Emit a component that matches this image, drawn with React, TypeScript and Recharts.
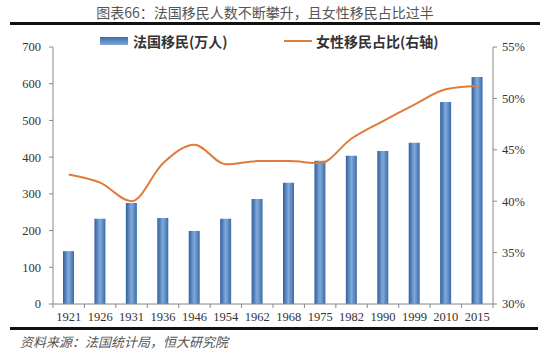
import React from 'react';
import { ComposedChart, Bar, Line, XAxis, YAxis } from 'recharts';

const years = ['1921', '1926', '1931', '1936', '1946', '1954', '1962', '1968', '1975', '1982', '1990', '1999', '2010', '2015'];
const immigrants = [144, 232, 275, 234, 199, 232, 286, 330, 390, 404, 417, 439, 550, 618];
const femaleShare = [42.6, 41.8, 40.0, 43.7, 45.5, 43.6, 43.9, 43.9, 43.7, 46.1, 47.8, 49.4, 50.9, 51.2];
const leftTicks = [0, 100, 200, 300, 400, 500, 600, 700];
const rightTicks = [30, 35, 40, 45, 50, 55];

const data = years.map((year, i) => ({
  year,
  immigrants: immigrants[i],
  share: femaleShare[i],
}));

const cjk = '"Noto Sans CJK SC", sans-serif';
const serif = '"Liberation Serif", "DejaVu Serif", serif';

const YearTick = ({ x, y, payload, index }: any) => {
  const off = payload && payload.offset ? payload.offset : 15.7;
  return (
    <g>
      <line x1={x - off} y1={y} x2={x - off} y2={y + 4} stroke="#888" />
      {index === years.length - 1 && <line x1={x + off} y1={y} x2={x + off} y2={y + 4} stroke="#888" />}
      <text x={x} y={y + 17} textAnchor="middle" fontSize={12.5} fontFamily={serif} fill="#333">
        {payload.value}
      </text>
    </g>
  );
};

const App: React.FC = () => {
  return (
    <div style={{ position: 'absolute', left: 0, top: 0, width: 550, height: 355, background: '#fff', overflow: 'hidden' }}>
      <div style={{ position: 'absolute', left: 0, width: 530, top: 3, textAlign: 'center', fontFamily: cjk, fontSize: 14, color: '#555', lineHeight: '18px' }}>
        图表66：法国移民人数不断攀升，且女性移民占比过半
      </div>
      <div style={{ position: 'absolute', left: 10, top: 22, width: 530, height: 3, background: '#111' }} />

      <div style={{ position: 'absolute', left: 100, top: 37, width: 28, height: 8, background: 'linear-gradient(to bottom, #3a6ca8, #7fa8d8)' }} />
      <div style={{ position: 'absolute', left: 133, top: 31, fontFamily: cjk, fontSize: 14, fontWeight: 700, color: '#333', lineHeight: '20px' }}>
        法国移民(万人)
      </div>
      <div style={{ position: 'absolute', left: 284, top: 40, width: 28, height: 2, background: '#e07b39' }} />
      <div style={{ position: 'absolute', left: 316, top: 31, fontFamily: cjk, fontSize: 14, fontWeight: 700, color: '#333', lineHeight: '20px' }}>
        女性移民占比(右轴)
      </div>

      <div style={{ position: 'absolute', left: 0, top: 0 }}>
        <ComposedChart width={550} height={355} data={data} margin={{ top: 47, right: 0, bottom: 31, left: 0 }}>
          <defs>
            <linearGradient id="barBlue" x1="0" y1="0" x2="1" y2="0">
              <stop offset="0%" stopColor="#2e5f9e" />
              <stop offset="50%" stopColor="#82aadb" />
              <stop offset="100%" stopColor="#3a6ca8" />
            </linearGradient>
          </defs>
          <XAxis
            dataKey="year"
            height={20}
            tickSize={0}
            tickMargin={0}
            tickLine={false}
            axisLine={{ stroke: '#888' }}
            interval={0}
            tick={<YearTick />}
          />
          <YAxis
            yAxisId="left"
            width={53}
            domain={[0, 700]}
            ticks={leftTicks}
            tickSize={4}
            tickMargin={8}
            axisLine={{ stroke: '#888' }}
            tickLine={{ stroke: '#888' }}
            tick={{ fontSize: 12.5, fontFamily: serif, fill: '#333' }}
          />
          <YAxis
            yAxisId="right"
            orientation="right"
            width={57}
            domain={[30, 55]}
            ticks={rightTicks}
            tickFormatter={(v: number) => `${v}%`}
            tickSize={4}
            tickMargin={5}
            axisLine={{ stroke: '#888' }}
            tickLine={{ stroke: '#888' }}
            tick={{ fontSize: 12.5, fontFamily: serif, fill: '#333' }}
          />
          <Bar yAxisId="left" dataKey="immigrants" fill="url(#barBlue)" barSize={11} isAnimationActive={false} />
          <Line
            yAxisId="right"
            type="monotone"
            dataKey="share"
            stroke="#e07b39"
            strokeWidth={2}
            dot={false}
            isAnimationActive={false}
          />
        </ComposedChart>
      </div>

      <div style={{ position: 'absolute', left: 10, top: 327, width: 528, height: 3, background: '#111' }} />
      <div style={{ position: 'absolute', left: 20, top: 333, fontFamily: cjk, fontSize: 13, fontStyle: 'italic', color: '#555', lineHeight: '18px' }}>
        资料来源：法国统计局，恒大研究院
      </div>
    </div>
  );
};

export default App;
